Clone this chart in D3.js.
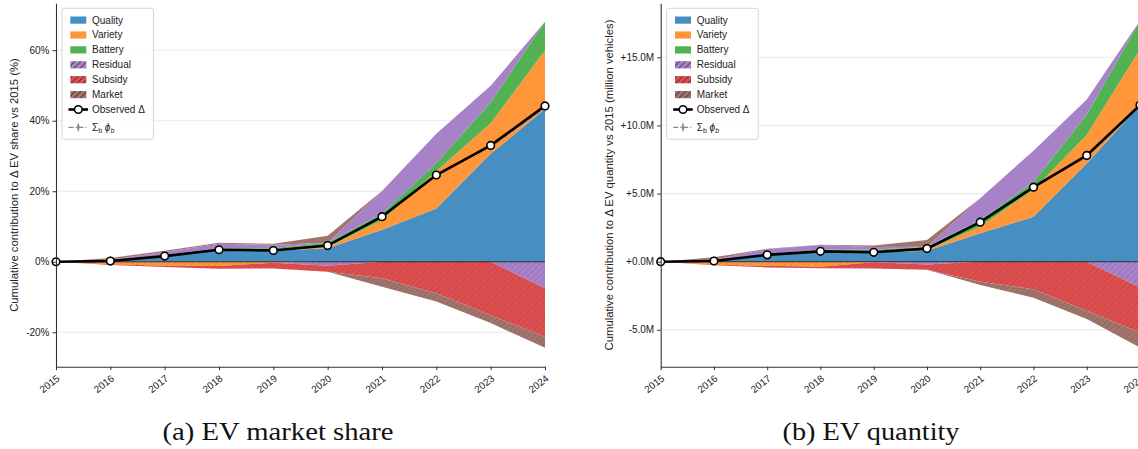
<!DOCTYPE html>
<html>
<head>
<meta charset="utf-8">
<script src="https://cdn.jsdelivr.net/npm/d3@7"></script>
<style>
  body { margin: 0; background: #fff; }
  svg { display: block; font-family: "Liberation Sans", Arial, sans-serif; }
</style>
</head>
<body>
<script>
const width = 1138;
const height = 449;

// data
const years = [2015, 2016, 2017, 2018, 2019, 2020, 2021, 2022, 2023, 2024];
const keys = ["Quality", "Variety", "Battery", "Residual", "Subsidy", "Market"];
const baseColors = ["#1f77b4", "#ff7f0e", "#2ca02c", "#9467bd", "#d62728", "#8c564b"];
const hatchedInLegend = ["Residual", "Subsidy", "Market"];

// (a) EV market share, percentage points
const shareQuality = [0, 0.2, 1.6, 3.3, 3.1, 3.8, 9.1, 15.1, 30.6, 43.3];
const shareVariety = [0, -0.7, -1.1, -1.2, -0.3, 0.4, 2.7, 10.6, 8.7, 16.7];
const shareBattery = [0, 0.1, 0.3, 0.5, 0.8, 1.2, 1.9, 2.3, 5.9, 8.1];
const shareResidual = [0, 0.3, 0.9, 1.3, 0.9, -1.1, 6.4, 8.3, 4.7, -7.5];
const shareSubsidy = [0, -0.2, -0.4, -0.8, -1.6, -1.7, -4.7, -8.9, -15.2, -13.8];
const shareMarket = [0, 0.5, 0.3, 0.3, 0.3, 2.0, -2.4, -2.4, -2.2, -3.1];
const shareObserved = [0, 0.2, 1.6, 3.4, 3.2, 4.6, 12.8, 24.6, 33.0, 44.2];
const shareTicks = [-20, 0, 20, 40, 60];

// (b) EV quantity, million vehicles
const qtyQuality = [0, 0.05, 0.51, 0.76, 0.67, 0.8, 2.08, 3.3, 7.2, 11.5];
const qtyVariety = [0, -0.22, -0.3, -0.37, -0.05, 0.05, 0.49, 2.0, 2.1, 4.1];
const qtyBattery = [0, 0.02, 0.06, 0.12, 0.2, 0.25, 0.49, 0.55, 1.5, 2.1];
const qtyResidual = [0, 0.08, 0.35, 0.34, 0.2, -0.2, 1.6, 2.3, 1.1, -1.9];
const qtySubsidy = [0, -0.05, -0.12, -0.12, -0.45, -0.4, -1.47, -2.03, -3.6, -3.3];
const qtyMarket = [0, 0.17, 0.03, 0.03, 0.12, 0.5, -0.25, -0.62, -0.6, -1.1];
const qtyObserved = [0, 0.05, 0.5, 0.76, 0.69, 0.96, 2.9, 5.47, 7.8, 11.5];
const qtyTicks = [-5, 0, 5, 10, 15];

// blend a colour with white like alpha=0.8 in matplotlib
function blend(c, a) {
  const rgb = d3.rgb(c);
  return d3.rgb(rgb.r * a + 255 * (1 - a), rgb.g * a + 255 * (1 - a), rgb.b * a + 255 * (1 - a)).formatHex();
}
const fills = baseColors.map((c) => blend(c, 0.82));

const svg = d3.select("body").append("svg").attr("width", width).attr("height", height);
const defs = svg.append("defs");

// hatch patterns: one for the plot (tinted lines), one for legend (dark lines)
fills.forEach((f, i) => {
  [["hatch", d3.color(f).darker(0.7).formatHex(), 0.9], ["lhatch", "#222", 1]].forEach(([name, stroke, sw]) => {
    const p = defs.append("pattern")
      .attr("id", `${name}-${i}`)
      .attr("patternUnits", "userSpaceOnUse")
      .attr("width", 6)
      .attr("height", 6);
    p.append("rect").attr("width", 6).attr("height", 6).attr("fill", f);
    p.append("path")
      .attr("d", "M-1,1 l2,-2 M0,6 l6,-6 M5,7 l2,-2")
      .attr("stroke", stroke)
      .attr("stroke-width", sw)
      .attr("stroke-opacity", name === "hatch" ? 0.55 : 0.9);
  });
});

function drawPanel(opts) {
  const { x0, x1, top, bottom, yDomain, ticks, fmt, series, observed, ylabel, labelX, caption, captionX, captionLen } = opts;

  const rows = years.map((yr, i) => {
    const r = { year: yr };
    keys.forEach((k, j) => { r[k] = series[j][i]; });
    return r;
  });
  const posRows = rows.map((r) => {
    const o = { year: r.year };
    keys.forEach((k) => { o[k] = Math.max(r[k], 0); });
    return o;
  });
  const negRows = rows.map((r) => {
    const o = { year: r.year };
    keys.forEach((k) => { o[k] = Math.min(r[k], 0); });
    return o;
  });
  const sums = rows.map((r) => d3.sum(keys, (k) => r[k]));

  const x = d3.scaleLinear().domain([years[0], years[years.length - 1]]).range([x0, x1]);
  const y = d3.scaleLinear().domain(yDomain).range([bottom, top]);

  const g = svg.append("g");

  // grid
  g.append("g")
    .selectAll("line")
    .data(ticks)
    .join("line")
    .attr("x1", x0)
    .attr("x2", x1)
    .attr("y1", (d) => y(d))
    .attr("y2", (d) => y(d))
    .attr("stroke", "#e6e6e6")
    .attr("stroke-width", 0.9);

  const stack = d3.stack().keys(keys);
  const area = d3.area()
    .x((d) => x(d.data.year))
    .y0((d) => y(d[0]))
    .y1((d) => y(d[1]));

  g.append("g")
    .selectAll("path")
    .data(stack(posRows))
    .join("path")
    .attr("d", area)
    .attr("fill", (d, i) => fills[i]);

  g.append("g")
    .selectAll("path")
    .data(stack(negRows))
    .join("path")
    .attr("d", area)
    .attr("fill", (d, i) => `url(#hatch-${i})`);

  // zero line
  g.append("line")
    .attr("x1", x0)
    .attr("x2", x1)
    .attr("y1", y(0))
    .attr("y2", y(0))
    .attr("stroke", "#1a1a1a")
    .attr("stroke-opacity", 0.85)
    .attr("stroke-width", 1);

  // sum of contributions
  g.append("path")
    .datum(sums)
    .attr("d", d3.line().x((d, i) => x(years[i])).y((d) => y(d)))
    .attr("fill", "none")
    .attr("stroke", "#888")
    .attr("stroke-width", 1.3)
    .attr("stroke-dasharray", "5,2,1,2");
  g.append("g")
    .selectAll("path")
    .data(sums)
    .join("path")
    .attr("transform", (d, i) => `translate(${x(years[i])},${y(d)}) scale(0.5,1)`)
    .attr("d", d3.symbol(d3.symbolDiamond, 30))
    .attr("fill", "#888");

  // observed
  g.append("path")
    .datum(observed)
    .attr("d", d3.line().x((d, i) => x(years[i])).y((d) => y(d)))
    .attr("fill", "none")
    .attr("stroke", "#000")
    .attr("stroke-width", 2.6);
  g.append("g")
    .selectAll("circle")
    .data(observed)
    .join("circle")
    .attr("cx", (d, i) => x(years[i]))
    .attr("cy", (d) => y(d))
    .attr("r", 3.8)
    .attr("fill", "#fff")
    .attr("stroke", "#000")
    .attr("stroke-width", 1.6);

  // axes
  const yAxis = g.append("g")
    .attr("transform", `translate(${x0},0)`)
    .call(d3.axisLeft(y).tickValues(ticks).tickFormat(fmt).tickSize(3.5).tickSizeOuter(0).tickPadding(3));
  yAxis.select(".domain").attr("stroke", "#333").attr("stroke-width", 1.1);
  yAxis.selectAll(".tick line").attr("stroke", "#333");
  yAxis.selectAll("text").attr("font-size", 10).attr("fill", "#222").attr("font-family", null);

  const xAxis = g.append("g")
    .attr("transform", `translate(0,${bottom})`)
    .call(d3.axisBottom(x).tickValues(years).tickFormat(d3.format("d")).tickSize(3.5).tickSizeOuter(0));
  xAxis.select(".domain").attr("stroke", "#333").attr("stroke-width", 1.1);
  xAxis.selectAll(".tick line").attr("stroke", "#333");
  xAxis.selectAll("text")
    .attr("y", 0)
    .attr("dy", 0)
    .attr("transform", "translate(4,13) rotate(-38)")
    .attr("text-anchor", "end")
    .attr("font-size", 10)
    .attr("fill", "#222")
    .attr("font-family", null);

  // y label
  svg.append("text")
    .attr("transform", `translate(${labelX},${(top + bottom) / 2}) rotate(-90)`)
    .attr("text-anchor", "middle")
    .attr("font-size", 11.3)
    .attr("fill", "#222")
    .text(ylabel);

  // legend
  const lg = svg.append("g").attr("transform", `translate(${x0 + 6},8.3)`);
  lg.append("rect")
    .attr("width", 91.5)
    .attr("height", 131)
    .attr("rx", 2)
    .attr("fill", "#fff")
    .attr("fill-opacity", 0.85)
    .attr("stroke", "#d0d0d0")
    .attr("stroke-width", 0.9);
  keys.forEach((k, i) => {
    const ry = 11.8 + i * 14.9;
    lg.append("rect")
      .attr("x", 8.3)
      .attr("y", ry - 3.6)
      .attr("width", 16)
      .attr("height", 7.2)
      .attr("fill", hatchedInLegend.includes(k) ? `url(#lhatch-${i})` : fills[i]);
    lg.append("text")
      .attr("x", 30)
      .attr("y", ry)
      .attr("dy", "0.35em")
      .attr("font-size", 10)
      .attr("fill", "#222")
      .text(k);
  });
  const obsY = 11.8 + 6 * 14.9;
  lg.append("line").attr("x1", 6.5).attr("x2", 26).attr("y1", obsY).attr("y2", obsY)
    .attr("stroke", "#000").attr("stroke-width", 2.6);
  lg.append("circle").attr("cx", 16.3).attr("cy", obsY).attr("r", 3.8)
    .attr("fill", "#fff").attr("stroke", "#000").attr("stroke-width", 1.6);
  lg.append("text").attr("x", 30).attr("y", obsY).attr("dy", "0.35em")
    .attr("font-size", 10).attr("fill", "#222").text("Observed Δ");
  const sumY = 119;
  lg.append("line").attr("x1", 6.5).attr("x2", 26).attr("y1", sumY).attr("y2", sumY)
    .attr("stroke", "#888").attr("stroke-width", 1.3).attr("stroke-dasharray", "5,2,1,2");
  lg.append("path").attr("transform", `translate(16.3,${sumY}) scale(0.5,1)`)
    .attr("d", d3.symbol(d3.symbolDiamond, 30)).attr("fill", "#888");
  const st = lg.append("text").attr("x", 30).attr("y", sumY).attr("dy", "0.35em")
    .attr("font-size", 10).attr("fill", "#222");
  st.append("tspan").text("Σ");
  st.append("tspan").attr("font-size", 7).attr("dy", 2.5).text("b");
  st.append("tspan").attr("font-style", "italic").attr("dy", -2.5).text(" ϕ");
  st.append("tspan").attr("font-size", 7).attr("font-style", "italic").attr("dy", 2.5).text("b");

  // caption
  svg.append("text")
    .attr("x", captionX)
    .attr("y", 440)
    .attr("text-anchor", "middle")
    .attr("font-family", "'Liberation Serif', 'DejaVu Serif', serif")
    .attr("font-size", 26)
    .attr("textLength", captionLen)
    .attr("lengthAdjust", "spacingAndGlyphs")
    .attr("fill", "#111")
    .text(caption);
}

const signed = (d) => (d < 0 ? "-" : "+") + Math.abs(d).toFixed(1) + "M";

drawPanel({
  x0: 56,
  x1: 545,
  top: 3.3,
  bottom: 366.7,
  yDomain: [-29.76, 73.3],
  ticks: shareTicks,
  fmt: (d) => (d < 0 ? "-" : "") + Math.abs(d) + "%",
  series: [shareQuality, shareVariety, shareBattery, shareResidual, shareSubsidy, shareMarket],
  observed: shareObserved,
  ylabel: "Cumulative contribution to Δ EV share vs 2015 (%)",
  labelX: 18,
  caption: "(a) EV market share",
  captionX: 278,
  captionLen: 231
});

drawPanel({
  x0: 660.7,
  x1: 1140,
  top: 3.3,
  bottom: 366.7,
  yDomain: [-7.71, 18.97],
  ticks: qtyTicks,
  fmt: signed,
  series: [qtyQuality, qtyVariety, qtyBattery, qtyResidual, qtySubsidy, qtyMarket],
  observed: qtyObserved,
  ylabel: "Cumulative contribution to Δ EV quantity vs 2015 (million vehicles)",
  labelX: 613,
  caption: "(b) EV quantity",
  captionX: 871,
  captionLen: 177
});
</script>
</body>
</html>
